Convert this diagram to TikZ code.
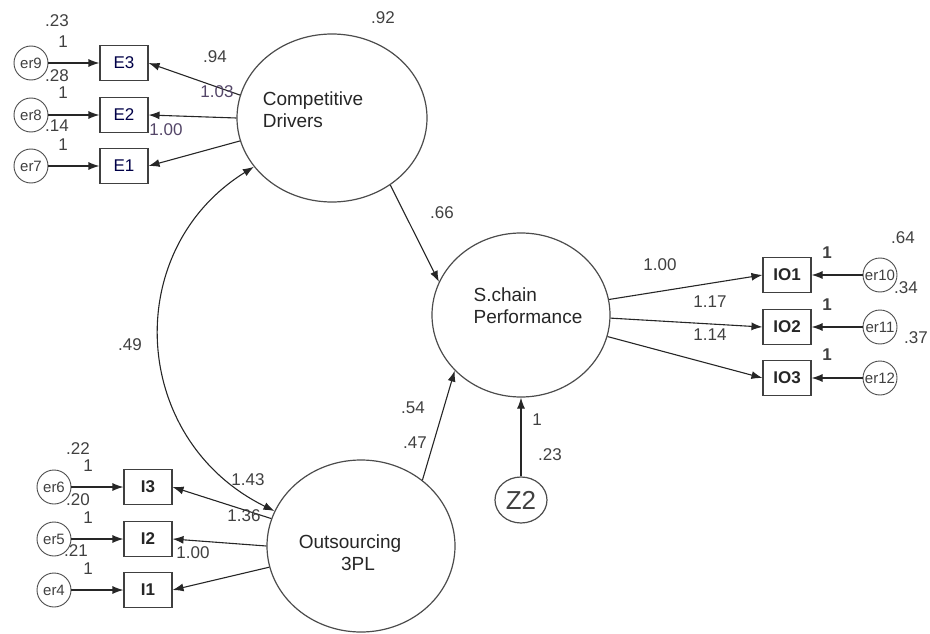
\documentclass[tikz,border=0pt]{standalone}
\usepackage{fontspec}
\setmainfont{Liberation Sans}
\usetikzlibrary{arrows.meta,positioning,shapes.geometric}
\definecolor{lblpurple}{RGB}{84,70,104}

\begin{document}
\begin{tikzpicture}[x=1pt, y=-1pt, >={Latex[length=11pt,width=8pt]},
    every node/.style={font=\fontsize{17}{19}\selectfont, text=black!75},
    latent/.style={draw=black!70, line width=1.2pt, ellipse, inner sep=0pt},
    lattext/.style={align=left, font=\fontsize{19}{22}\selectfont, text=black!85},
    obsbox/.style={draw=black!75, line width=1.1pt, minimum width=48pt, minimum height=35pt, inner sep=0pt},
    errc/.style={draw=black!70, circle, line width=0.9pt, minimum size=34pt, inner sep=0pt, font=\fontsize{15}{17}\selectfont},
    arr/.style={->, line width=1.1pt, draw=black!85},
    lbl/.style={inner sep=0pt}]
    \useasboundingbox (0,0) rectangle (930,634);

    \node[latent, minimum width=190pt, minimum height=168pt] (cd) at (332,118) {};
    \node[lattext] (cdtext) at (313,110) {Competitive\\Drivers};
    \node[latent, minimum width=178pt, minimum height=164pt] (sc) at (521,315) {};
    \node[lattext] (sctext) at (528,306) {S.chain\\Performance};
    \node[latent, minimum width=188pt, minimum height=172pt] (os) at (361,546) {};
    \node[lattext, align=center] (ostext) at (350,553) {Outsourcing\\\hspace*{16pt}3PL};
    \node[latent, minimum width=52pt, minimum height=46pt, font=\fontsize{26}{28}\selectfont] (z2) at (521,500) {Z2};

    \foreach \n/\e/\y in {3/9/63,2/8/115,1/7/166} {
        \node[obsbox, text=black!65!blue!80!black] (E\n) at (124,\y) {E\n};
        \node[errc] (er\e) at (31,\y) {er\e};
        \draw[arr] (er\e) -- (E\n);
    }
    \foreach \n/\e/\y in {3/6/487,2/5/539,1/4/590} {
        \node[obsbox, font=\bfseries\fontsize{17}{19}\selectfont, text=black!85] (I\n) at (148,\y) {I\n};
        \node[errc] (er\e) at (54,\y) {er\e};
        \draw[arr] (er\e) -- (I\n);
    }
    \foreach \n/\e/\y in {1/10/275,2/11/327,3/12/378} {
        \node[obsbox, font=\bfseries\fontsize{17}{19}\selectfont, text=black!85] (IO\n) at (787,\y) {IO\n};
        \node[errc] (er\e) at (880,\y) {er\e};
        \draw[arr] (er\e) -- (IO\n);
    }

    \foreach \n/\a in {3/166,2/180,1/194}
        \draw[arr] (cd.\a) -- (E\n.east);
    \foreach \n/\a in {3/163,2/180,1/193}
        \draw[arr] (os.\a) -- (I\n.east);
    \foreach \n/\a in {1/10,2/-2,3/-14}
        \draw[arr] (sc.\a) -- (IO\n.west);

    \draw[arr] (cd.-49) -- (sc.158);
    \draw[arr] (os.47) -- (sc.220);
    \draw[arr] (z2) -- (sc);
    \draw[<->, line width=1.1pt, draw=black!85] (cd.212) .. controls (120,250) and (130,440) .. (os.158);

    \node[lbl] (v23a) at (57,21) {.23};
    \node[lbl] (w9) at (63,42) {1};
    \node[lbl] (v28) at (57,76) {.28};
    \node[lbl] (w8) at (63,93) {1};
    \node[lbl] (v14) at (57,126) {.14};
    \node[lbl] (w7) at (63,145) {1};
    \node[lbl] (l94) at (215,57) {.94};
    \node[lbl, text=lblpurple] (l103) at (217,92) {1.03};
    \node[lbl, text=lblpurple] (l100e) at (166,130) {1.00};
    \node[lbl] (v92) at (383,18) {.92};
    \node[lbl] (l66) at (442,213) {.66};
    \node[lbl] (l49) at (130,345) {.49};
    \node[lbl] (l54) at (413,408) {.54};
    \node[lbl] (v47) at (415,443) {.47};
    \node[lbl] (wz) at (537,420) {1};
    \node[lbl] (v23b) at (550,455) {.23};
    \node[lbl] (l143) at (248,480) {1.43};
    \node[lbl] (l136) at (244,516) {1.36};
    \node[lbl] (l100i) at (193,553) {1.00};
    \node[lbl] (v22) at (78,449) {.22};
    \node[lbl] (w6) at (88,466) {1};
    \node[lbl] (v20) at (78,500) {.20};
    \node[lbl] (w5) at (88,518) {1};
    \node[lbl] (v21) at (76,551) {.21};
    \node[lbl] (w4) at (88,569) {1};
    \node[lbl] (l100o) at (660,265) {1.00};
    \node[lbl] (l117) at (710,302) {1.17};
    \node[lbl] (l114) at (710,335) {1.14};
    \node[lbl, font=\bfseries\fontsize{17}{19}\selectfont] (w10) at (827,253) {1};
    \node[lbl, font=\bfseries\fontsize{17}{19}\selectfont] (w11) at (827,305) {1};
    \node[lbl, font=\bfseries\fontsize{17}{19}\selectfont] (w12) at (827,355) {1};
    \node[lbl] (v64) at (903,238) {.64};
    \node[lbl] (v34) at (906,288) {.34};
    \node[lbl] (v37) at (916,338) {.37};
\end{tikzpicture}
\end{document}
